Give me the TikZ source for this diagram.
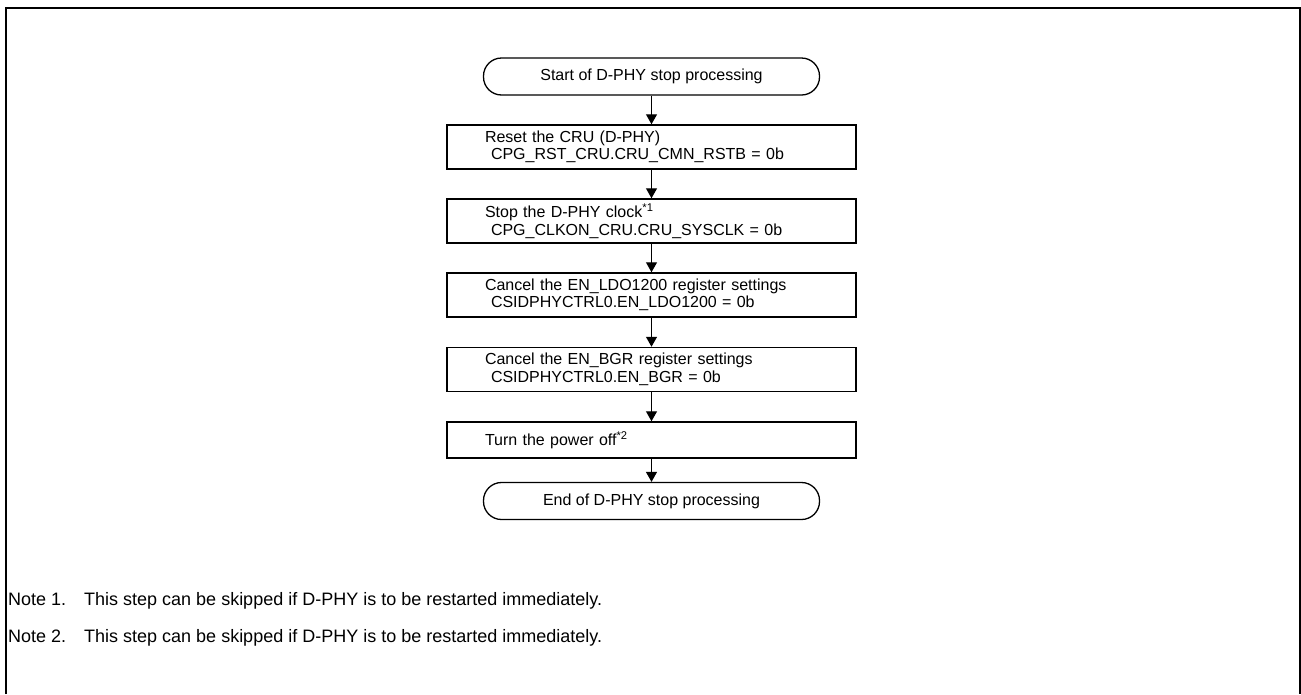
\documentclass[tikz,border=0pt]{standalone}
\usepackage{fontspec}
\setmainfont{Liberation Sans}
\usetikzlibrary{arrows.meta}
\newcommand{\flowfont}{\fontsize{16}{17.5}\selectfont}
\newcommand{\notefont}{\fontsize{18}{21}\selectfont}
\tikzset{
  termbox/.style  = {draw, line width=1.3pt, rounded corners=18pt,
                     minimum width=336pt, minimum height=37pt, inner sep=0pt,
                     font=\flowfont},
  stepbox/.style  = {draw, line width=1.5pt, minimum width=409pt,
                     minimum height=44pt, text width=333pt, inner xsep=38pt,
                     inner ysep=0pt, align=left, font=\flowfont},
  flowar/.style   = {-{Triangle[length=10pt,width=11pt]}, line width=1.3pt},
  notetext/.style = {anchor=base west, inner sep=0pt, font=\notefont}
}

\begin{document}
\begin{tikzpicture}[x=1pt,y=-1pt]
  \useasboundingbox (0,0) rectangle (1301,694);
  % frame, open at the bottom edge
  \draw[line width=2pt] (6,694) -- (6,7.75) -- (1300,7.75) -- (1300,694);
  \node[termbox] (start) at (651.5,76.5) {Start of D-PHY stop processing};
  \node[stepbox] (rst) at (651.5,147)
    {Reset the CRU (D-PHY)\\\hspace*{6pt}CPG\_RST\_CRU.CRU\_CMN\_RSTB = 0b};
  \node[stepbox] (clk) at (651.5,221)
    {Stop the D-PHY clock\textsuperscript{*1}\\\hspace*{6pt}CPG\_CLKON\_CRU.CRU\_SYSCLK = 0b};
  \node[stepbox] (ldo) at (651.5,295)
    {Cancel the EN\_LDO1200 register settings\\\hspace*{6pt}CSIDPHYCTRL0.EN\_LDO1200 = 0b};
  \node[stepbox] (bgr) at (651.5,369.5)
    {Cancel the EN\_BGR register settings\\\hspace*{6pt}CSIDPHYCTRL0.EN\_BGR = 0b};
  \node[stepbox, minimum height=36pt] (pwr) at (651.5,440)
    {Turn the power off\textsuperscript{*2}};
  \node[termbox] (finish) at (651.5,501) {End of D-PHY stop processing};
  \foreach \a/\b in {start/rst, rst/clk, clk/ldo, ldo/bgr, bgr/pwr, pwr/finish}
    { \draw[flowar] (\a) -- (\b); }
  % both notes carry the same text
  \foreach \n/\y in {1/605, 2/642} {
    \node[notetext] (note\n) at (8,\y) {Note \n.};
    \node[notetext] (notetxt\n) at (84,\y)
      {This step can be skipped if D-PHY is to be restarted immediately.};
  }
\end{tikzpicture}
\end{document}
